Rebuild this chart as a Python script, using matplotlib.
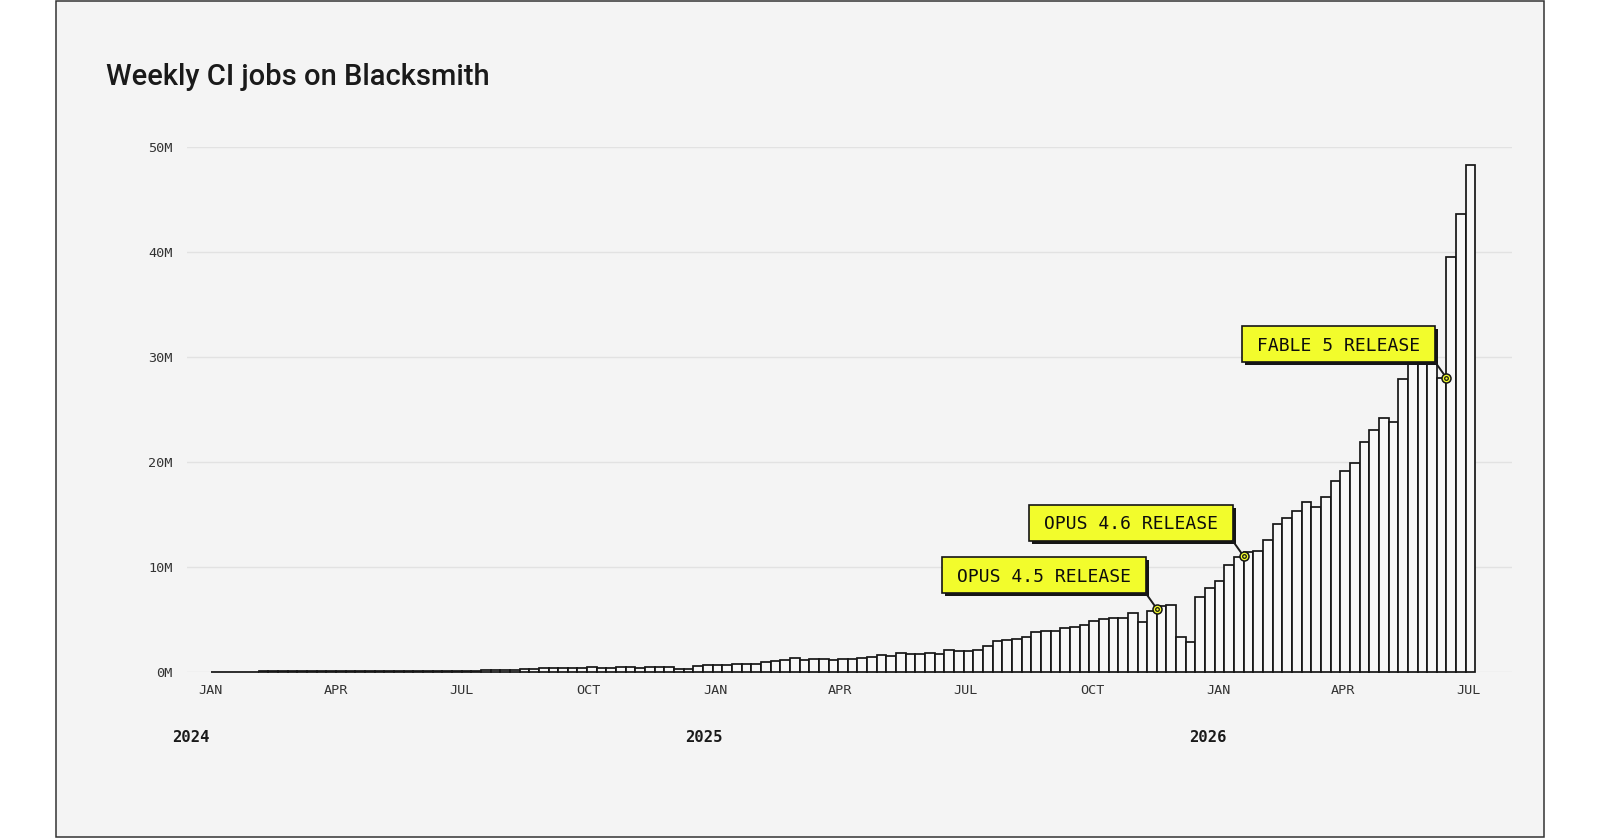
import numpy as np
import pandas as pd
import matplotlib
matplotlib.use('Agg')
import matplotlib.pyplot as plt
import matplotlib.dates as mdates
from matplotlib.patches import Rectangle
from matplotlib.lines import Line2D
from matplotlib.transforms import IdentityTransform

# Weekly CI jobs (millions), one bar per week starting Mon 2024-01-01
weeks = pd.date_range('2024-01-01', periods=131, freq='7D')
jobs_m = [
    0.01, 0.01, 0.01, 0.015, 0.015, 0.02, 0.02, 0.02, 0.025, 0.025, 0.03, 0.03,
    0.03, 0.035, 0.035, 0.04, 0.04, 0.045, 0.045, 0.05, 0.05, 0.055, 0.06, 0.06,
    0.08, 0.09, 0.10, 0.11, 0.12, 0.13,
    0.16, 0.16, 0.22, 0.29, 0.32, 0.32, 0.35, 0.35, 0.38, 0.41,
    0.38, 0.38, 0.42, 0.48, 0.40, 0.45, 0.46, 0.47, 0.26, 0.30,
    0.53, 0.60, 0.63, 0.65, 0.76, 0.76, 0.74, 0.88, 1.00, 1.07,
    1.26, 1.15, 1.22, 1.24, 1.16, 1.17, 1.17, 1.33, 1.40, 1.61, 1.50, 1.75,
    1.69, 1.69, 1.78, 1.69, 2.03, 1.97, 2.00, 2.10,
    2.41, 2.95, 3.02, 3.14, 3.27, 3.75, 3.84, 3.88, 4.16, 4.22,
    4.41, 4.86, 4.99, 5.14, 5.14, 5.62, 4.76, 5.81, 6.29, 6.35,
    3.33, 2.86, 7.14, 7.94, 8.64, 10.16, 10.90, 11.40, 11.50, 12.54,
    14.04, 14.70, 15.30, 16.20, 15.68, 16.70, 18.20, 19.15, 19.87, 21.88,
    23.00, 24.20, 23.85, 27.87, 30.40, 31.60, 31.20, 28.02, 39.50, 43.65, 48.28,
]

tick_dates = pd.to_datetime([
    '2024-01-01', '2024-04-01', '2024-07-01', '2024-10-01',
    '2025-01-01', '2025-04-01', '2025-07-01', '2025-10-01',
    '2026-01-01', '2026-04-01', '2026-07-01',
])
tick_labels = ['JAN', 'APR', 'JUL', 'OCT', 'JAN', 'APR', 'JUL', 'OCT', 'JAN', 'APR', 'JUL']
years = ['2024', '2025', '2026']
year_starts = pd.to_datetime(['2024-01-01', '2025-01-01', '2026-01-01'])
y_ticks = [0, 10, 20, 30, 40, 50]

ann_labels = ['OPUS 4.5 RELEASE', 'OPUS 4.6 RELEASE', 'FABLE 5 RELEASE']
ann_dates = pd.to_datetime(['2025-11-17', '2026-01-19', '2026-06-15'])
ann_values = [6.0, 11.0, 28.0]

BG = '#f4f4f4'
INK = '#1a1a1a'
YELLOW = '#f2fc2c'
MONO = 'DejaVu Sans Mono'

W, H = 1600, 838
fig = plt.figure(figsize=(16, 8.38), dpi=100, facecolor='white')

# card background with thin border
fig.patches.append(Rectangle((55.7 / W, 1.0 / H), (1544.3 - 55.7) / W, (837.3 - 1.0) / H,
                             transform=fig.transFigure, facecolor=BG,
                             edgecolor='#333333', linewidth=1.1, zorder=-5))

fig.text(106 / W, 1 - 85 / H, 'Weekly CI jobs on Blacksmith', family='Roboto',
         fontweight='medium', fontsize=21, color=INK, va='baseline', ha='left')

ax = fig.add_axes([186.7 / W, 1 - 671.7 / H, (1512 - 186.7) / W, (671.7 - 146.7) / H])
ax.set_facecolor('none')

ax.bar(weeks, jobs_m, width=7, align='edge', facecolor='#f8f8f8',
       edgecolor='#161616', linewidth=1.25, zorder=2, clip_on=False)

x0 = mdates.date2num(weeks[0])
ax.set_xlim(x0 - 17.3, x0 + 943.5)
ax.set_ylim(0, 50.05)

ax.set_yticks(y_ticks)
ax.set_yticklabels([f'{v}M' for v in y_ticks])
ax.set_xticks(tick_dates)
ax.set_xticklabels(tick_labels)
for lab in ax.get_xticklabels() + ax.get_yticklabels():
    lab.set_family(MONO)

ax.grid(axis='y', color='#e2e2e2', linewidth=1.0, zorder=0)
ax.set_axisbelow(True)
for s in ax.spines.values():
    s.set_visible(False)
ax.tick_params(length=0, labelsize=9.7, labelcolor='#333333')
ax.tick_params(axis='x', pad=8.5)
ax.tick_params(axis='y', pad=10)

fig.canvas.draw()
renderer = fig.canvas.get_renderer()

# year labels under the January ticks
year_shift = [38, 30, 30]
for yr, d, sh in zip(years, year_starts, year_shift):
    px, _ = ax.transData.transform((mdates.date2num(d), 0))
    fig.text((px - sh) / W, 1 - 737.7 / H, yr, family=MONO, fontweight='bold',
             fontsize=11.2, color=INK, ha='left', va='center')

# release callouts
ident = IdentityTransform()
for label, d, v in zip(ann_labels, ann_dates, ann_values):
    px, py = ax.transData.transform((mdates.date2num(d), v))
    t = ax.text(0, 0, label, transform=ident, family=MONO, fontsize=13,
                color='#0d0d0d', ha='center', va='baseline',
                zorder=7, clip_on=False)
    tw = t.get_window_extent(renderer).width
    bw, bh = tw + 30, 36
    right, bottom = px - 11, py + 15.5
    left = right - bw
    ax.add_patch(Rectangle((left + 3, bottom - 3), bw, bh, transform=ident,
                           facecolor='#151515', edgecolor='none', zorder=5, clip_on=False))
    ax.add_patch(Rectangle((left, bottom), bw, bh, transform=ident, facecolor=YELLOW,
                           edgecolor='#151515', linewidth=1.2, zorder=6, clip_on=False))
    t.set_position((left + bw / 2, bottom + bh / 2 - 6.6))
    ax.add_line(Line2D([right, px], [bottom, py], transform=ident, color='#1a1a1a',
                       linewidth=1.4, zorder=6, clip_on=False))
    ax.plot([d], [v], 'o', ms=6.5, mfc=YELLOW, mec='#151515', mew=1.1, zorder=8, clip_on=False)
    ax.plot([d], [v], 'o', ms=2.6, mfc=YELLOW, mec='#151515', mew=0.9, zorder=9, clip_on=False)

fig.savefig('out.png', dpi=100, facecolor='white')
